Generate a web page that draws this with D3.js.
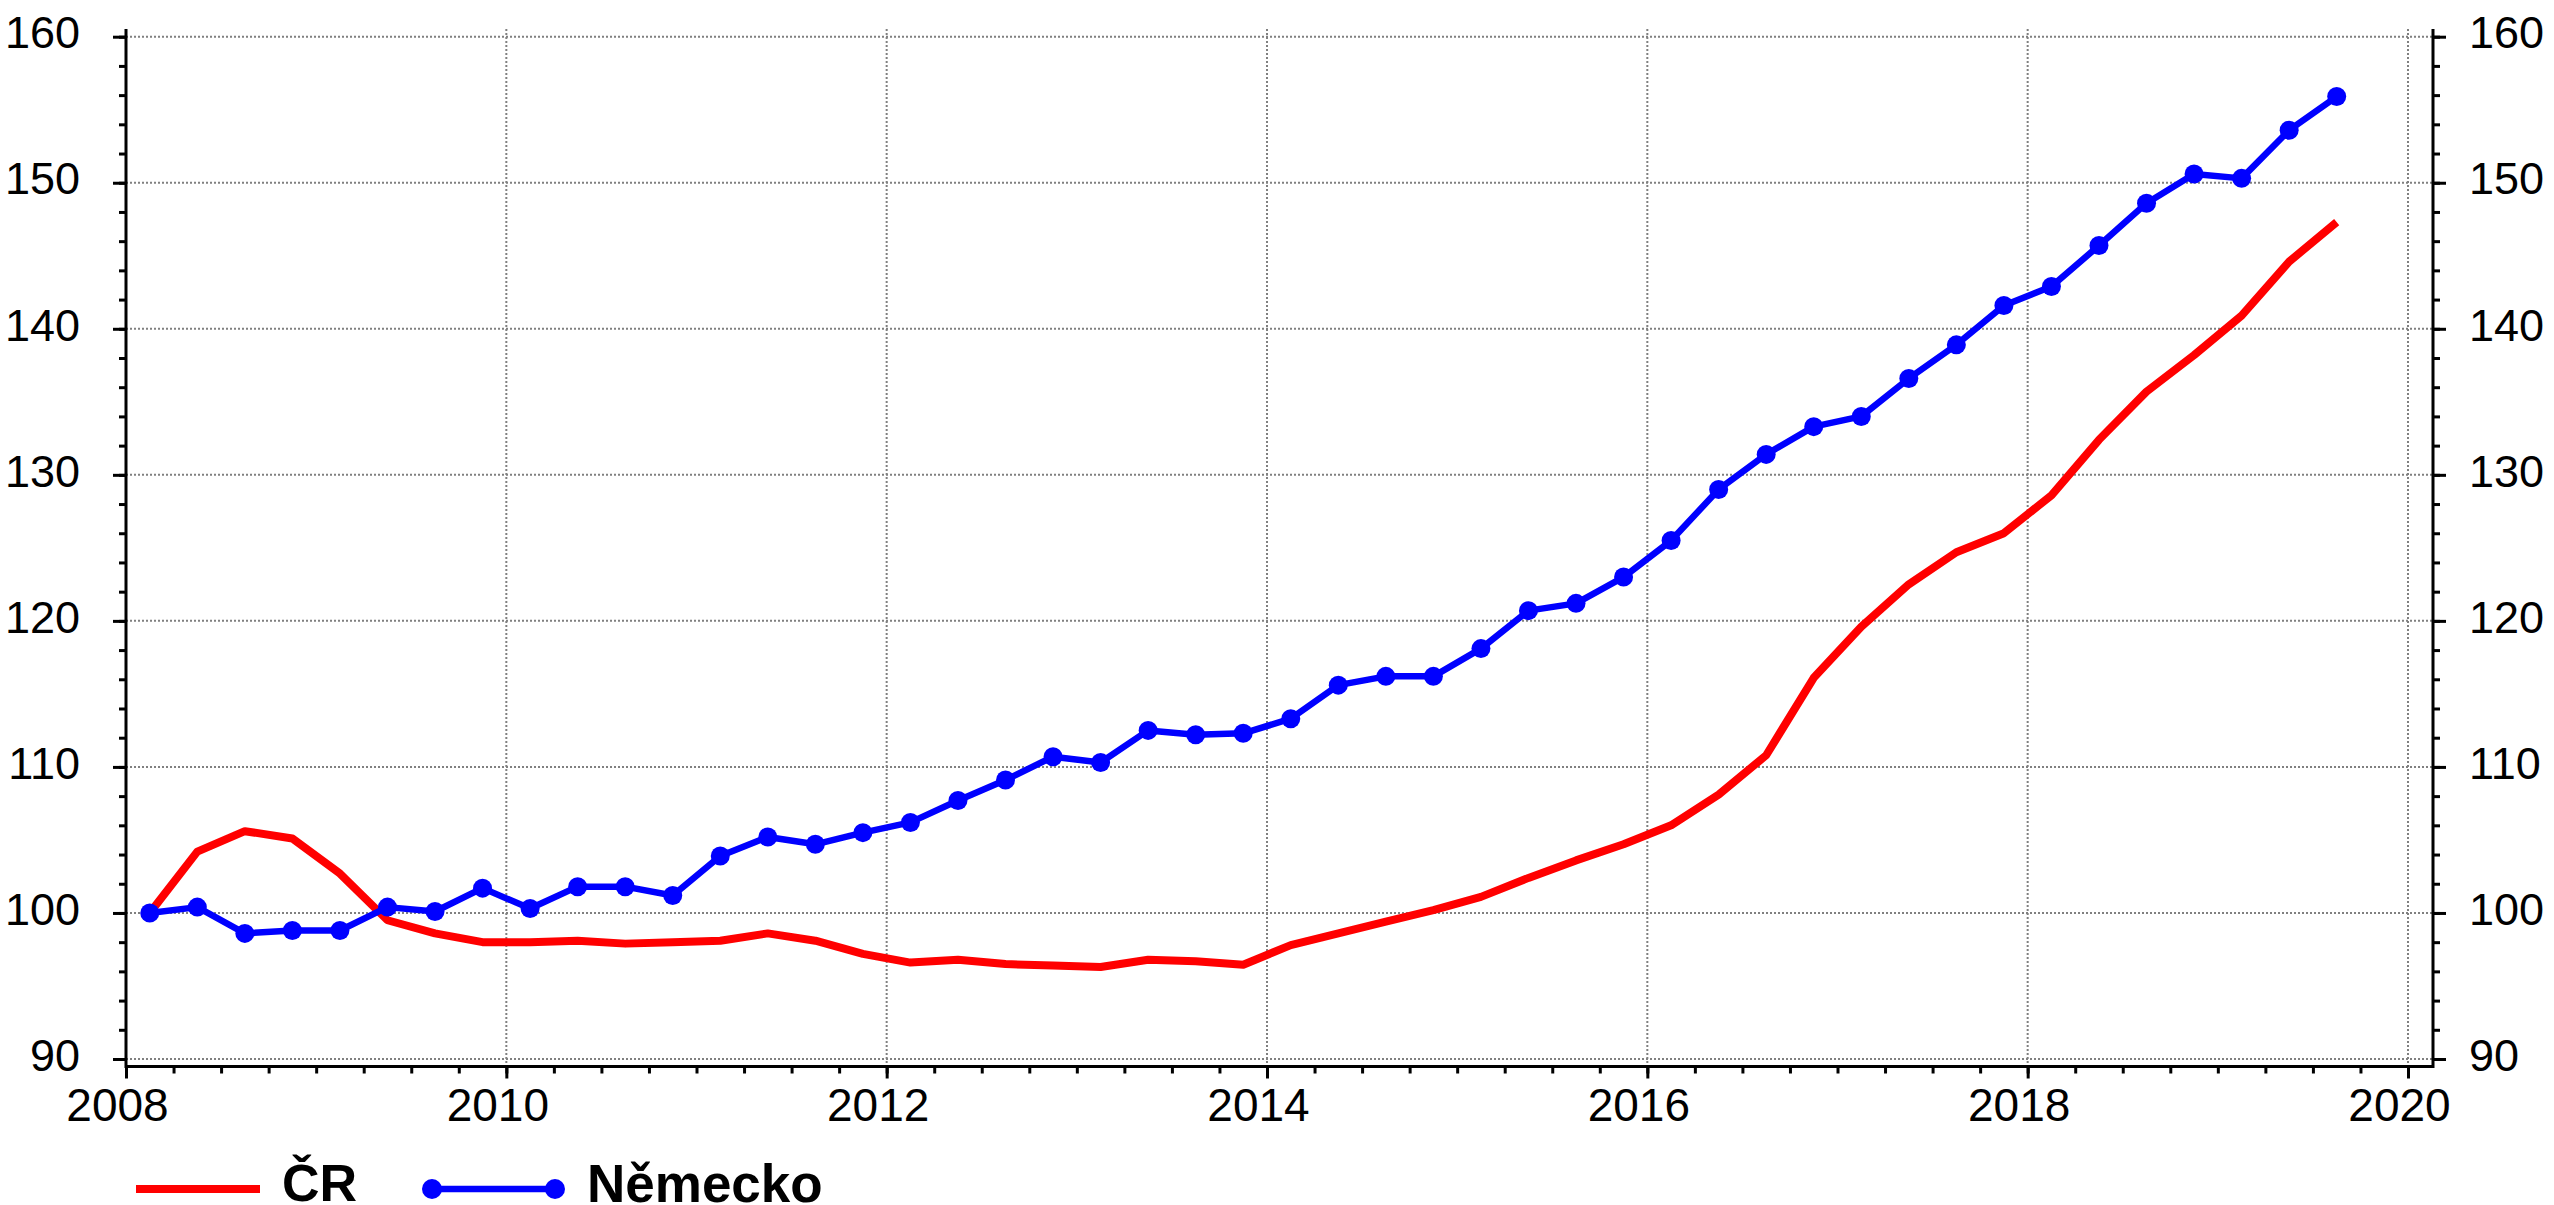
<!DOCTYPE html>
<html>
<head>
<meta charset="utf-8">
<script src="https://cdn.jsdelivr.net/npm/d3@7"></script>
<style>
  body { margin: 0; background: #fff; }
  svg { display: block; font-family: "Liberation Sans", Arial, sans-serif; }
</style>
</head>
<body>
<svg id="chart"></svg>
<script>
// quarters 2008Q1 .. 2019Q3
var quarters = [
    "2008Q1", "2008Q2", "2008Q3", "2008Q4",
    "2009Q1", "2009Q2", "2009Q3", "2009Q4",
    "2010Q1", "2010Q2", "2010Q3", "2010Q4",
    "2011Q1", "2011Q2", "2011Q3", "2011Q4",
    "2012Q1", "2012Q2", "2012Q3", "2012Q4",
    "2013Q1", "2013Q2", "2013Q3", "2013Q4",
    "2014Q1", "2014Q2", "2014Q3", "2014Q4",
    "2015Q1", "2015Q2", "2015Q3", "2015Q4",
    "2016Q1", "2016Q2", "2016Q3", "2016Q4",
    "2017Q1", "2017Q2", "2017Q3", "2017Q4",
    "2018Q1", "2018Q2", "2018Q3", "2018Q4",
    "2019Q1", "2019Q2", "2019Q3"
];

var cr = [
    100.0, 104.2, 105.6, 105.1,
    102.7, 99.5, 98.6, 98.0,
    98.0, 98.1, 97.9, 98.0,
    98.1, 98.6, 98.1, 97.2,
    96.6, 96.8, 96.5, 96.4,
    96.3, 96.8, 96.7, 96.45,
    97.8, 98.6, 99.4, 100.2,
    101.1, 102.4, 103.6, 104.7,
    106.0, 108.1, 110.8, 116.1,
    119.6, 122.5, 124.7, 126.0,
    128.6, 132.4, 135.7, 138.2,
    140.9, 144.6, 147.3
];

var nemecko = [
    100.0, 100.4, 98.6, 98.8,
    98.8, 100.4, 100.1, 101.7,
    100.3, 101.8, 101.8, 101.2,
    103.9, 105.2, 104.7, 105.5,
    106.2, 107.7, 109.1, 110.7,
    110.3, 112.5, 112.2, 112.3,
    113.3, 115.6, 116.2, 116.2,
    118.1, 120.7, 121.2, 123.0,
    125.5, 129.0, 131.4, 133.3,
    134.0, 136.6, 138.9, 141.6,
    142.9, 145.7, 148.6, 150.6,
    150.3, 153.6, 155.9
];

var seriesNames = ["ČR", "Německo"];
var yTicks = [90, 100, 110, 120, 130, 140, 150, 160];
var xTicks = [2008, 2010, 2012, 2014, 2016, 2018, 2020];

window.onload = function() {

    var width = 2554,
        height = 1205;

    var left = 126, right = 2433, top = 29, bottom = 1066.5;

    var svg = d3.select("#chart")
        .attr("width", width)
        .attr("height", height);

    var x = d3.scaleLinear().domain([2008, 2020]).range([126, 2408]);
    var y = d3.scaleLinear().domain([90, 160]).range([1059, 36.7]);

    // quarter -> mid point of the quarter
    function qx(q) {
        var yr = +q.slice(0, 4), n = +q.slice(5);
        return x(yr + (n - 1) / 4 + 0.125);
    }

    var grid = svg.append("g")
        .attr("stroke", "#808080")
        .attr("stroke-width", 2)
        .attr("stroke-dasharray", "2,2");

    grid.selectAll("line.h")
        .data(yTicks)
        .enter().append("line")
        .attr("class", "h")
        .attr("x1", left).attr("x2", right)
        .attr("y1", function(d) { return y(d); })
        .attr("y2", function(d) { return y(d); });

    grid.selectAll("line.v")
        .data(xTicks.slice(1))
        .enter().append("line")
        .attr("class", "v")
        .attr("x1", function(d) { return x(d); })
        .attr("x2", function(d) { return x(d); })
        .attr("y1", top).attr("y2", bottom);

    // axes
    var minorY = d3.range(90, 161, 2);
    var minorX = d3.range(2008, 2020.01, 0.25);

    function styleAxis(g) {
        g.select(".domain").remove();
        g.selectAll("line").attr("stroke", "#000").attr("stroke-width", 3);
        g.selectAll("text").attr("fill", "#000").style("font-size", "45px");
    }

    svg.append("g")
        .attr("transform", "translate(" + left + ",0)")
        .call(d3.axisLeft(y).tickValues(minorY).tickSize(7).tickFormat(""))
        .call(styleAxis);
    svg.append("g")
        .attr("transform", "translate(" + left + ",0)")
        .call(d3.axisLeft(y).tickValues(yTicks).tickSize(13).tickPadding(33))
        .call(styleAxis)
        .selectAll("text").attr("dy", "0.25em");

    svg.append("g")
        .attr("transform", "translate(" + right + ",0)")
        .call(d3.axisRight(y).tickValues(minorY).tickSize(7).tickFormat(""))
        .call(styleAxis);
    svg.append("g")
        .attr("transform", "translate(" + right + ",0)")
        .call(d3.axisRight(y).tickValues(yTicks).tickSize(13).tickPadding(23))
        .call(styleAxis)
        .selectAll("text").attr("dy", "0.25em");

    svg.append("g")
        .attr("transform", "translate(0," + bottom + ")")
        .call(d3.axisBottom(x).tickValues(minorX).tickSize(7).tickFormat(""))
        .call(styleAxis);
    svg.append("g")
        .attr("transform", "translate(0," + bottom + ")")
        .call(d3.axisBottom(x).tickValues(xTicks).tickSize(12).tickPadding(9.5).tickFormat(d3.format("d")))
        .call(styleAxis)
        .selectAll("text").attr("dx", "-9").style("font-size", "46px");

    // axis lines
    var frame = svg.append("g").attr("stroke", "#000").attr("stroke-width", 3);
    frame.append("line").attr("x1", left).attr("x2", left).attr("y1", top).attr("y2", bottom + 1.5);
    frame.append("line").attr("x1", right).attr("x2", right).attr("y1", top).attr("y2", bottom + 1.5);
    frame.append("line").attr("x1", left).attr("x2", right).attr("y1", bottom).attr("y2", bottom);

    var line = d3.line()
        .x(function(d, i) { return qx(quarters[i]); })
        .y(function(d) { return y(d); });

    svg.append("path")
        .datum(cr)
        .attr("fill", "none")
        .attr("stroke", "#ff0000")
        .attr("stroke-width", 8)
        .attr("stroke-linejoin", "round")
        .attr("d", line);

    svg.append("path")
        .datum(nemecko)
        .attr("fill", "none")
        .attr("stroke", "#0000ff")
        .attr("stroke-width", 6.5)
        .attr("stroke-linejoin", "round")
        .attr("d", line);

    svg.selectAll("circle.pt")
        .data(nemecko)
        .enter().append("circle")
        .attr("class", "pt")
        .attr("cx", function(d, i) { return qx(quarters[i]); })
        .attr("cy", function(d) { return y(d); })
        .attr("r", 9.5)
        .attr("fill", "#0000ff");

    // legend
    var legend = svg.append("g");
    var ly = 1189;

    legend.append("line")
        .attr("x1", 136).attr("x2", 260)
        .attr("y1", ly).attr("y2", ly)
        .attr("stroke", "#ff0000").attr("stroke-width", 8);
    legend.append("text")
        .attr("x", 282).attr("y", 1201)
        .style("font-size", "52px").style("font-weight", "bold")
        .text(seriesNames[0]);

    legend.append("line")
        .attr("x1", 432).attr("x2", 555)
        .attr("y1", ly).attr("y2", ly)
        .attr("stroke", "#0000ff").attr("stroke-width", 6.5);
    legend.selectAll("circle")
        .data([432, 555])
        .enter().append("circle")
        .attr("cx", function(d) { return d; })
        .attr("cy", ly)
        .attr("r", 10)
        .attr("fill", "#0000ff");
    legend.append("text")
        .attr("x", 587).attr("y", 1201.5)
        .style("font-size", "53px").style("font-weight", "bold")
        .text(seriesNames[1]);
};
</script>
</body>
</html>
